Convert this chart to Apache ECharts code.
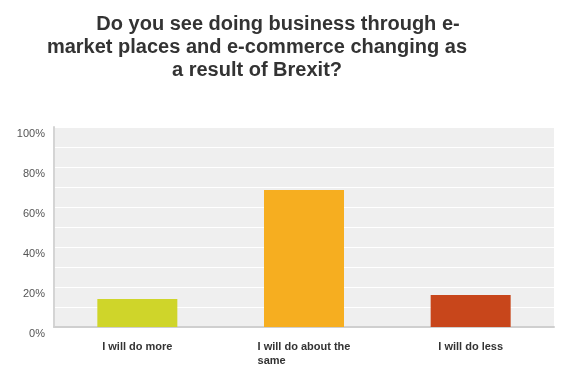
<!DOCTYPE html>
<html>
<head>
<meta charset="utf-8">
<script src="https://cdn.jsdelivr.net/npm/echarts@6/dist/echarts.min.js"></script>
<style>html,body{margin:0;padding:0;background:#fff;}#c{width:576px;height:382px;}</style>
</head>
<body>
<div id="c"></div>
<script>
const titleLines = ['Do you see doing business through e-', 'market places and e-commerce changing as', 'a result of Brexit?'];
const categories = ['I will do more', 'I will do about the same', 'I will do less'];
const categoryLabels = ['I will do more', 'I will do about the\nsame', 'I will do less'];
const values = [14, 68.5, 16];
const barColors = ['#cfd52a', '#f6ae20', '#c8461b'];
const yTickValues = [0, 20, 40, 60, 80, 100];
const yTickLabels = ['0%', '20%', '40%', '60%', '80%', '100%'];

const chart = echarts.init(document.getElementById('c'), null, {renderer: 'canvas'});
const titleFont = {fontFamily: 'Liberation Sans, Arial, sans-serif', fontSize: 20, fontWeight: 'bold', color: '#333333'};
const titleCenters = [278, 257, 257];
const titleTops = [14, 37, 60];
chart.setOption({
  animation: false,
  title: titleLines.map((t, i) => ({
    text: t, left: titleCenters[i], top: titleTops[i], textAlign: 'center', padding: 0,
    textStyle: titleFont
  })),
  grid: {left: 54, width: 500, top: 127, bottom: 55, show: true, backgroundColor: '#efefef', borderWidth: 0},
  xAxis: {
    type: 'category', data: categories,
    axisLine: {show: true, lineStyle: {color: '#cfcfcf', width: 2}},
    axisTick: {show: false},
    axisLabel: {
      margin: 13, interval: 0,
      formatter: (v, idx) => categoryLabels[idx].split('\n').map(l => '{a|' + l + '}').join('\n'),
      rich: {a: {fontFamily: 'Liberation Sans, Arial, sans-serif', fontSize: 11, fontWeight: 'bold', color: '#333333', align: 'left', lineHeight: 14}}
    }
  },
  yAxis: {
    type: 'value', min: 0, max: 100, interval: 10,
    axisLine: {show: true, lineStyle: {color: '#d4d4d4', width: 2}},
    axisTick: {show: false},
    splitLine: {show: true, lineStyle: {color: '#ffffff', width: 1}},
    axisLabel: {
      margin: 9, verticalAlign: 'top', padding: [1, 0, 0, 0],
      fontFamily: 'Liberation Sans, Arial, sans-serif', fontSize: 11, color: '#555555',
      formatter: v => { const k = yTickValues.indexOf(v); return k >= 0 ? yTickLabels[k] : ''; }
    }
  },
  series: [{
    type: 'bar', barWidth: '48%',
    data: values.map((v, i) => ({value: v, itemStyle: {color: barColors[i]}}))
  }]
});
</script>
</body>
</html>
